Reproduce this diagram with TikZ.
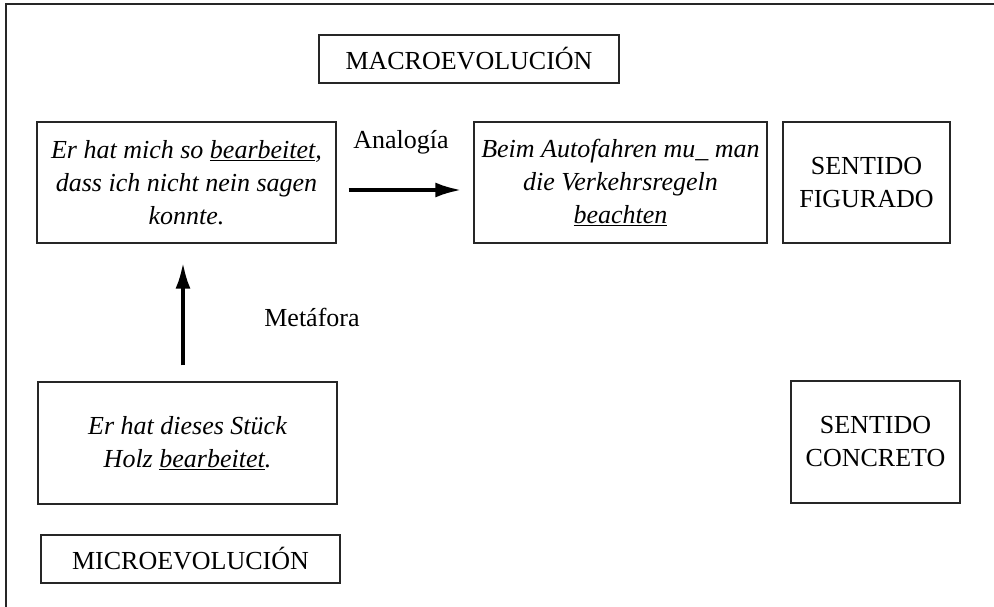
\documentclass[tikz,border=0pt]{standalone}
\usepackage{fontspec}
\setmainfont{Liberation Serif}
\usetikzlibrary{arrows.meta}
\begin{document}
\begin{tikzpicture}[x=1pt,y=-1pt,
    box/.style={draw=black!85,line width=1.3pt,align=center,inner sep=0pt,
      font=\fontsize{26}{33}\selectfont},
    lbl/.style={align=center,font=\fontsize{26}{33}\selectfont},
    arr/.style={line width=3.6pt,-{Latex[length=26pt,width=15pt]}}]
  \useasboundingbox (0,0) rectangle (994,607);
  % frame
  \draw[black!85,line width=1.6pt] (6,607) -- (6,4) -- (994,4);
  % boxes
  \node[box,minimum width=300pt,minimum height=48pt] (macro) at (469,59) {MACROEVOLUCI\'ON};
  \node[box,minimum width=299pt,minimum height=121pt] (fig) at (186.5,182.5)
    {\itshape Er hat mich so \underline{bearbeitet},\\ \itshape dass ich nicht nein sagen\\ \itshape konnte.};
  \node[box,minimum width=293pt,minimum height=121pt] (fig2) at (620.5,182.5)
    {\itshape Beim Autofahren mu\_ man\\ \itshape die Verkehrsregeln\\ \itshape \underline{beachten}};
  \node[box,minimum width=167pt,minimum height=121pt] (sfig) at (866.5,182.5) {SENTIDO\\FIGURADO};
  \node[box,minimum width=299pt,minimum height=122pt] (lit) at (187.5,443)
    {\itshape Er hat dieses St\"uck\\ \itshape Holz \underline{bearbeitet}.};
  \node[box,minimum width=169pt,minimum height=122pt] (scon) at (875.5,442) {SENTIDO\\CONCRETO};
  \node[box,minimum width=299pt,minimum height=48pt] (micro) at (190.5,559) {MICROEVOLUCI\'ON};
  % labels
  \node[lbl] (ana) at (401,142) {Analog\'ia};
  \node[lbl] (met) at (312,317) {Met\'afora};
  % arrows
  \draw[arr] ([xshift=12pt,yshift=-7.5pt]fig.east) -- ([xshift=-12pt,yshift=-7.5pt]fig2.west);
  \draw[arr] ([xshift=-4.5pt,yshift=16pt]lit.north) -- ([xshift=-3.5pt,yshift=-19pt]fig.south);
\end{tikzpicture}
\end{document}
